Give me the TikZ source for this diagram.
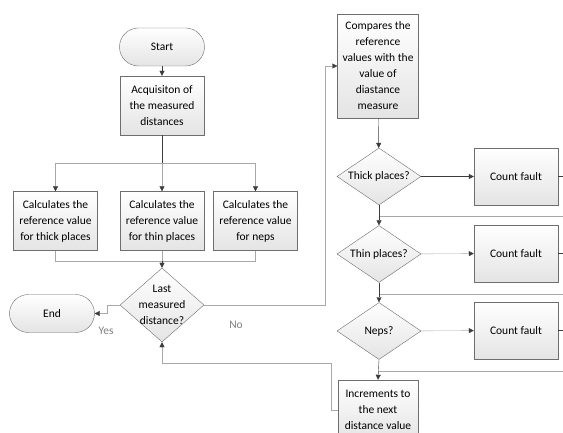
\documentclass[tikz,border=0pt]{standalone}
\usepackage{fontspec}
\setmainfont{Carlito}
\usetikzlibrary{shapes.geometric,arrows.meta}
\definecolor{edgegray}{HTML}{6E6E6E}
\definecolor{shadegray}{HTML}{E4E4E4}
\definecolor{linedark}{HTML}{3C3C3C}
\definecolor{linelight}{HTML}{A8A8A8}
\tikzset{
  procbox/.style={draw=edgegray, top color=white, bottom color=shadegray,
    minimum width=84pt, minimum height=59pt, inner sep=1pt, align=center},
  termbox/.style={draw=edgegray, top color=white, bottom color=shadegray,
    rounded corners=19pt, minimum width=85pt, minimum height=38pt},
  testbox/.style={diamond, draw=edgegray, top color=white, bottom color=shadegray,
    inner sep=0pt, minimum width=84pt, minimum height=57pt},
  flow/.style={draw=linedark, -{Triangle[length=5pt,width=5pt,color=linedark]}},
  softflow/.style={draw=linelight, -{Triangle[length=5pt,width=5pt,color=linedark]}},
  thin line/.style={draw=linelight},
  answer/.style={text=gray}
}
\begin{document}
\begin{tikzpicture}[x=1pt,y=-1pt,font=\fontsize{11.5}{16}\selectfont]
  \clip (0,0) rectangle (563,433);
  \fill[white] (0,0) rectangle (563,433);
  \node[termbox] (start) at (162,47) {Start};
  \node[procbox] (acq) at (162,105.5) {Acquisiton of\\the measured\\distances};
  \node[procbox] (thick) at (55.5,221) {Calculates the\\reference value\\for thick places};
  \node[procbox] (thin) at (162,221) {Calculates the\\reference value\\for thin places};
  \node[procbox] (neps) at (255.5,221) {Calculates the\\reference value\\for neps};
  \node[testbox, minimum height=74pt,
    label={[align=center]center:Last\\measured\\distance?}] (last) at (162,305) {};
  \node[termbox] (end) at (52,313.5) {End};
  \node[answer] (yes) at (106,331) {Yes};
  \node[answer] (no) at (236,325) {No};
  \node[procbox, minimum width=81pt, minimum height=104pt] (cmp) at (378,66)
    {Compares the\\reference\\values with the\\value of\\diastance\\measure};
  \node[testbox, label={center:Thick places?}] (qthick) at (379,176.5) {};
  \node[testbox, label={center:Thin places?}] (qthin) at (379,254) {};
  \node[testbox, label={center:Neps?}] (qneps) at (379,331) {};
  \node[procbox, minimum height=57pt] (cf1) at (516,176.5) {Count fault};
  \node[procbox, minimum height=57pt] (cf2) at (516,253.5) {Count fault};
  \node[procbox, minimum height=57pt] (cf3) at (516,330.5) {Count fault};
  \node[procbox, minimum width=80pt, minimum height=60pt] (inc) at (378,410)
    {Increments to\\the next\\distance value};
  \coordinate (split) at (162,163);
  \coordinate (merge) at (162,261);
  \coordinate (up) at (325,66);
  \coordinate (back) at (331,363);
  \draw[linedark] (acq) -- (split);
  \draw[softflow] (split) -| (thick.north);
  \draw[softflow] (split) -| (neps.north);
  \draw[softflow] (split) -- (thin.north);
  \draw[thin line] (thick.south) |- (merge);
  \draw[thin line] (neps.south) |- (merge);
  \draw[thin line] (thin.south) -- (merge);
  \draw[flow] (merge) -- (last.north);
  \draw[flow] (start) -- (acq);
  \draw[softflow] (last.west) -- ++(-13,0) |- (end.east);
  \draw[softflow] (last.east) -| (up) -- (cmp.west);
  \draw[flow] (cmp) -- (qthick);
  \draw[flow] (qthick) -- (cf1);
  \draw[softflow] (qthin) -- (cf2);
  \draw[softflow] (qneps) -- (cf3);
  \draw[linedark] (cf1.east) -- ++(12,0);
  \draw[linedark] (cf2.east) -- ++(12,0);
  \draw[linedark] (cf3.east) -- ++(12,0);
  \draw[thin line] (570,216) -- (379,216);
  \draw[thin line] (570,294) -- (379,294);
  \draw[thin line] (570,371) -- (379,371);
  \draw[flow] (qthick.south) -- (qthin.north);
  \draw[flow] (qthin.south) -- (qneps.north);
  \draw[flow] (qneps.south) -- (inc.north);
  \draw[softflow] (inc.west) -| (back) -| (last.south);
\end{tikzpicture}
\end{document}
